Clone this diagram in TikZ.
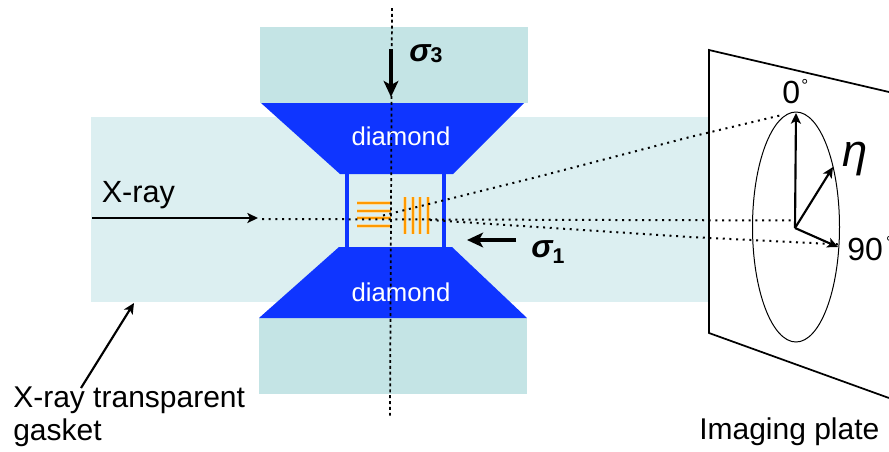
\documentclass[tikz,border=0pt]{standalone}
\usepackage{fontspec}
\setmainfont{Liberation Sans}
\usetikzlibrary{arrows.meta}
\definecolor{gasketcol}{HTML}{DCEFF1}
\definecolor{seatcol}{HTML}{C4E4E5}
\definecolor{diacol}{HTML}{0F35FF}
\definecolor{oranges}{HTML}{FF9900}
\definecolor{halo}{HTML}{F5DDA8}
\newcommand{\fsz}[1]{\fontsize{#1}{#1}\selectfont}
\tikzset{
  px/.style={x=0.75pt,y=-0.75pt},
  lab/.style={inner sep=0pt,anchor=base west,text=black},
  dialab/.style={inner sep=0pt,anchor=center,text=white,font=\fsz{19.3}},
  arr/.style={line width=2.6pt,draw=black,-{Stealth[length=12pt,width=11pt,inset=3pt]}},
  thinarr/.style={line width=1.6pt,draw=black,-{Stealth[length=8pt,width=7.5pt,inset=2pt]}},
  dots/.style={line width=1.5pt,draw=black,dash pattern=on 1.5pt off 3.5pt},
  axisdots/.style={line width=1.3pt,draw=black,dash pattern=on 2.2pt off 2.2pt},
  plate/.style={line width=1.3pt,draw=black},
  orangebar/.style={line width=1.9pt,draw=oranges},
  halobar/.style={line width=2.9pt,draw=halo},
}
\begin{document}
\begin{tikzpicture}[px]
\useasboundingbox (0,0) rectangle (889,451);
\clip (0,0) rectangle (889,451);
% blocks
\fill[gasketcol] (91,117) rectangle (710,302);
\fill[seatcol] (260,27) rectangle (528,103);
\fill[seatcol] (259,318) rectangle (527,394);
\fill[diacol] (261,103) -- (524,103) -- (453,174) -- (340,174) -- cycle;
\fill[diacol] (339,247) -- (452,247) -- (527,318) -- (259,318) -- cycle;
\fill[diacol] (345,174) rectangle (349,247);
\fill[diacol] (442,174) rectangle (446,247);
% orange lines
\foreach \y in {203,211,218,226} {
  \draw[halobar] (357,\y) -- (391,\y);
  \draw[orangebar] (357,\y) -- (391,\y);
}
\foreach \x in {405,413,420,428} {
  \draw[halobar] (\x,197) -- (\x,234);
  \draw[orangebar] (\x,197) -- (\x,234);
}
% named points
\coordinate (axT) at (392,8);
\coordinate (axB) at (390,416);
\coordinate (beam) at (258,218);
\coordinate (xs) at (92,218);
\coordinate (c) at (795,228);
\coordinate (e0) at (796,113);
\coordinate (eEta) at (833,167);
\coordinate (e90) at (838,247);
% dotted
\draw[axisdots] (axT) -- (axB);
\draw[dots] (262,219) -- (795,220.5);
\draw[dots] (383,215.5) -- (537,177) -- (690,137) -- (782,115);
\draw[dots] (430,220) -- (537,227) -- (690,237) -- (842,244.5);
% plate
\draw[plate] (889,92) -- (709,50) -- (709,333) -- (889,398);
\draw[line width=0.75pt] (796,227) ellipse [x radius=43.5,y radius=115];
% arrows
\draw[thinarr] (xs) -- (beam);
\draw[arr] (391,49) -- (391,97);
\draw[arr] (516,240) -- (467,240);
\draw[thinarr] (81,388) -- (134,303);
\draw[thinarr] (c) -- (e0);
\draw[thinarr] (c) -- (eEta);
\draw[thinarr] (c) -- (e90);
% text
\node[dialab] (d1) at (401,136) {diamond};
\node[dialab] (d2) at (401,292) {diamond};
\node[lab,font=\fsz{23}] (xr) at (101.5,202) {X-ray};
\node[lab,font=\fsz{22.5}] (xt) at (13,407) {X-ray transparent};
\node[lab,font=\fsz{22.5}] (gk) at (13,440) {gasket};
\node[lab,font=\fsz{22.5}] (ip) at (699,439) {Imaging plate};
\node[lab,font=\fsz{24}] (z) at (782,103) {0\kern 1pt\raisebox{9pt}{\fsz{13}°}};
\node[lab,font=\fsz{24}] (nn) at (847,260) {90\kern 2.5pt\raisebox{9pt}{\fsz{13}°}};
\node[lab,font=\itshape\fsz{34}] (eta) at (842,166) {η};
\node[lab,font=\bfseries\itshape\fsz{24}] (s3) at (409,61) {σ\raisebox{-0.05em}{\upshape\fsz{16}3}};
\node[lab,font=\bfseries\itshape\fsz{24}] (s1) at (531,257) {σ\raisebox{-0.2em}{\upshape\fsz{16}1}};
\end{tikzpicture}
\end{document}
